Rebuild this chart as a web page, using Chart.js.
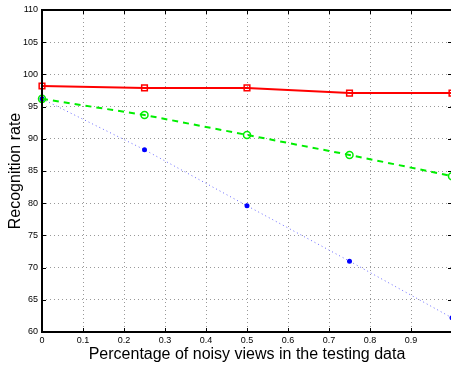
<!DOCTYPE html>
<html>
<head>
<meta charset="utf-8">
<script src="https://cdn.jsdelivr.net/npm/chart.js@4/dist/chart.umd.min.js"></script>
<style>
  html, body { margin: 0; padding: 0; background: #fff; overflow: hidden; }
  #wrap { width: 453px; height: 369px; }
</style>
</head>
<body>
<div id="wrap"><canvas id="chart"></canvas></div>
<script>
// values
const noiseLevels = [0, 0.25, 0.5, 0.75, 1.0];
const redRates = [98.2, 97.9, 97.9, 97.1, 97.1];
const greenRates = [96.2, 93.7, 90.6, 87.5, 84.2];
const blueRates = [96.2, 88.3, 79.6, 71.0, 62.2];
const yTicks = [60, 65, 70, 75, 80, 85, 90, 95, 100, 105, 110];
const xTicks = [0, 0.1, 0.2, 0.3, 0.4, 0.5, 0.6, 0.7, 0.8, 0.9, 1];

const toPoints = (ys) => noiseLevels.map((x, i) => ({ x: x, y: ys[i] }));

// black box + small inward tick marks, matlab style
const framePlugin = {
  id: 'frame',
  afterDraw(chart) {
    const ctx = chart.ctx;
    const a = chart.chartArea;
    const xs = chart.scales.x, ys = chart.scales.y;
    ctx.save();
    ctx.strokeStyle = '#000';
    ctx.lineWidth = 2;
    ctx.strokeRect(a.left, a.top, a.right - a.left, a.bottom - a.top);
    ctx.lineWidth = 1;
    ctx.beginPath();
    xTicks.forEach(v => {
      const px = Math.round(xs.getPixelForValue(v)) + 0.5;
      ctx.moveTo(px, a.bottom); ctx.lineTo(px, a.bottom - 4);
      ctx.moveTo(px, a.top); ctx.lineTo(px, a.top + 4);
    });
    yTicks.forEach(v => {
      const py = Math.round(ys.getPixelForValue(v)) + 0.5;
      ctx.moveTo(a.left, py); ctx.lineTo(a.left + 4, py);
      ctx.moveTo(a.right, py); ctx.lineTo(a.right - 4, py);
    });
    ctx.stroke();
    ctx.restore();
  }
};

const ctx = document.getElementById('chart').getContext('2d');
const chart = new Chart(ctx, {
  type: 'line',
  data: {
    datasets: [
      {
        label: 'red',
        data: toPoints(redRates),
        borderColor: '#ff0000',
        borderWidth: 2,
        pointStyle: 'rect',
        pointRadius: 4,
        pointBorderWidth: 1.5,
        pointBorderColor: '#ff0000',
        pointBackgroundColor: 'rgba(0,0,0,0)',
        clip: false
      },
      {
        label: 'green',
        data: toPoints(greenRates),
        borderColor: '#00ee00',
        borderWidth: 2,
        borderDash: [6, 5],
        pointStyle: 'circle',
        pointRadius: 3.5,
        pointBorderWidth: 1.5,
        pointBorderColor: '#00ee00',
        pointBackgroundColor: 'rgba(0,0,0,0)',
        clip: false
      },
      {
        label: 'blue',
        data: toPoints(blueRates),
        borderColor: '#6a6aff',
        borderWidth: 1,
        borderDash: [1, 3],
        pointStyle: 'circle',
        pointRadius: 2.5,
        pointBorderWidth: 0,
        pointBackgroundColor: '#0000ff',
        clip: false
      }
    ]
  },
  options: {
    responsive: true,
    maintainAspectRatio: false,
    animation: false,
    layout: { autoPadding: false, padding: { top: 10, right: 1, left: 0, bottom: 0 } },
    plugins: {
      legend: { display: false },
      tooltip: { enabled: false }
    },
    scales: {
      x: {
        type: 'linear',
        min: 0,
        max: 1,
        afterBuildTicks: (s) => { s.ticks = xTicks.map(v => ({ value: v })); },
        afterFit: (s) => { s.height = 37; s.paddingLeft = 0; s.paddingRight = 0; },
        ticks: {
          color: '#000',
          font: { family: 'Liberation Sans', size: 9 },
          padding: 3,
          maxRotation: 0,
          callback: (v) => (v === 1 ? '' : String(Math.round(v * 10) / 10))
        },
        grid: { color: '#999', lineWidth: 1, drawTicks: false },
        border: { display: false, dash: [1, 3] },
        title: {
          display: true,
          text: 'Percentage of noisy views in the testing data',
          color: '#000',
          font: { family: 'Liberation Sans', size: 16 },
          padding: { top: 0, bottom: 5 }
        }
      },
      y: {
        min: 60,
        max: 110,
        afterBuildTicks: (s) => { s.ticks = yTicks.map(v => ({ value: v })); },
        afterFit: (s) => { s.width = 42; },
        ticks: {
          color: '#000',
          font: { family: 'Liberation Sans', size: 9 },
          padding: 4
        },
        grid: { color: '#999', lineWidth: 1, drawTicks: false },
        border: { display: false, dash: [1, 3] },
        title: {
          display: true,
          text: 'Recognition rate',
          color: '#000',
          font: { family: 'Liberation Sans', size: 16 },
          padding: { top: 6, bottom: 0 }
        }
      }
    }
  },
  plugins: [framePlugin]
});
</script>
</body>
</html>
